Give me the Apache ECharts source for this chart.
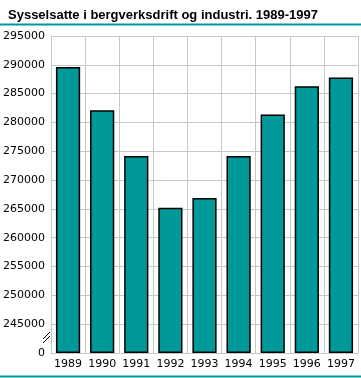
<!DOCTYPE html>
<html><head><meta charset="utf-8">
<script src="https://cdn.jsdelivr.net/npm/echarts@6/dist/echarts.min.js"></script>
<style>html,body{margin:0;padding:0;background:#fff}#c{width:361px;height:378px}</style>
</head><body><div id="c"></div>
<script>
const titleText = 'Sysselsatte i bergverksdrift og industri. 1989-1997';
const years = ['1989','1990','1991','1992','1993','1994','1995','1996','1997'];
const employed = [289600, 282100, 274200, 265200, 266900, 274200, 281400, 286300, 287800];
const axisBase = 240000;   // value shown at the axis break (bottom labelled 0)
const tickLabels = ['0','245000','250000','255000','260000','265000','270000','275000','280000','285000','290000','295000'];

const chart = echarts.init(document.getElementById('c'), null, {renderer:'canvas'});
const font = 'DejaVu Sans';
chart.setOption({
  animation:false,
  backgroundColor:'#fff',
  title:{text:titleText,left:3,top:4,textStyle:{fontFamily:'Liberation Sans',fontSize:13,fontWeight:'bold',color:'#000'}},
  grid:{left:49,right:3,top:36,bottom:25,containLabel:false},
  xAxis:{type:'category',data:years,boundaryGap:true,
    axisLine:{show:true,lineStyle:{color:'#c8c8c8',width:1}},
    axisTick:{show:false},
    splitLine:{show:true,lineStyle:{color:'#c8c8c8',width:1}},
    axisLabel:{fontFamily:font,fontSize:11,color:'#000',margin:6,interval:0}},
  yAxis:{type:'value',min:0,max:(295000-axisBase),interval:5000,
    axisLine:{show:true,lineStyle:{color:'#c8c8c8',width:1}},
    axisTick:{show:false},
    splitLine:{show:true,lineStyle:{color:'#c8c8c8',width:1}},
    axisLabel:{fontFamily:font,fontSize:11,color:'#000',margin:6,
      formatter:(v)=>tickLabels[Math.round(v/5000)]}},
  series:[{type:'bar',data:employed.map(v=>v-axisBase),barWidth:'71%',
    itemStyle:{color:'#009999',borderColor:'#000',borderWidth:1.5}}],
  graphic:[
    {type:'line',shape:{x1:0,y1:24.5,x2:361,y2:24.5},style:{stroke:'#009999',lineWidth:2}},
    {type:'line',shape:{x1:0,y1:376.5,x2:361,y2:376.5},style:{stroke:'#009999',lineWidth:2}},
    {type:'rect',shape:{x:46,y:333,width:6,height:8},style:{fill:'#fff'}},
    {type:'line',shape:{x1:43,y1:339,x2:50,y2:332},style:{stroke:'#000',lineWidth:1}},
    {type:'line',shape:{x1:43,y1:343,x2:50,y2:336},style:{stroke:'#000',lineWidth:1}}
  ]
});
</script></body></html>
